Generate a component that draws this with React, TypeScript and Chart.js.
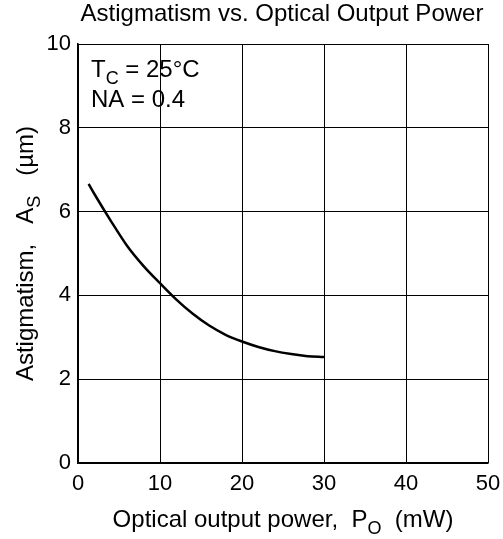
import React, { useEffect, useRef } from "react";
import { Chart, registerables } from "chart.js";

Chart.register(...registerables);

const powerMW = [1.3, 2, 4, 6, 8, 10, 12, 14, 16, 18, 20, 22, 24, 26, 28, 30];
const astigmatismUm = [6.66, 6.42, 5.78, 5.18, 4.7, 4.29, 3.9, 3.56, 3.28, 3.06, 2.9, 2.77, 2.67, 2.6, 2.55, 2.53];
const xTicks = [0, 10, 20, 30, 40, 50];
const yTicks = [0, 2, 4, 6, 8, 10];
const chartTitle = "Astigmatism vs. Optical Output Power";

const FONT = "'Liberation Sans', Arial, Helvetica, sans-serif";

type Seg = { t: string; sub?: boolean };

function segWidth(ctx: CanvasRenderingContext2D, segs: Seg[], size: number) {
  let w = 0;
  for (const s of segs) {
    ctx.font = `${s.sub ? size * 0.75 : size}px ${FONT}`;
    w += ctx.measureText(s.t).width;
  }
  return w;
}

function drawRich(ctx: CanvasRenderingContext2D, segs: Seg[], x: number, y: number, size: number, align: "left" | "center") {
  const total = segWidth(ctx, segs, size);
  let cx = align === "center" ? x - total / 2 : x;
  ctx.textBaseline = "alphabetic";
  ctx.textAlign = "left";
  for (const s of segs) {
    const fs = s.sub ? size * 0.75 : size;
    ctx.font = `${fs}px ${FONT}`;
    ctx.fillText(s.t, cx, s.sub ? y + size * 0.28 : y);
    cx += ctx.measureText(s.t).width;
  }
}

const textPlugin = {
  id: "richText",
  afterDraw(chart: any) {
    const ctx: CanvasRenderingContext2D = chart.ctx;
    const area = chart.chartArea;
    ctx.save();
    ctx.fillStyle = "#000";
    // title
    drawRich(ctx, [{ t: chartTitle }], 282, 21, 24, "center");
    // x title
    drawRich(
      ctx,
      [{ t: "Optical output power,  P" }, { t: "O", sub: true }, { t: "  (mW)" }],
      (area.left + area.right) / 2,
      527,
      24,
      "center"
    );
    // y title
    ctx.save();
    ctx.translate(33, (area.top + area.bottom) / 2);
    ctx.rotate(-Math.PI / 2);
    drawRich(ctx, [{ t: "Astigmatism,   A" }, { t: "S", sub: true }, { t: "   (\u00b5m)" }], 0, 0, 24, "center");
    ctx.restore();
    // annotation
    drawRich(ctx, [{ t: "T" }, { t: "C", sub: true }, { t: " = 25\u00b0C" }], area.left + 13, 77, 24, "left");
    drawRich(ctx, [{ t: "NA = 0.4" }], area.left + 13, 107, 24, "left");
    ctx.restore();
  },
};

export default function App() {
  const ref = useRef<HTMLCanvasElement>(null);
  useEffect(() => {
    if (!ref.current) return;
    const chart = new Chart(ref.current, {
      type: "scatter",
      data: {
        datasets: [
          {
            data: powerMW.map((x, i) => ({ x, y: astigmatismUm[i] })),
            showLine: true,
            borderColor: "#000",
            borderWidth: 2.5,
            pointRadius: 0,
            tension: 0.4,
            cubicInterpolationMode: "monotone",
          },
        ],
      },
      options: {
        animation: false,
        responsive: false,
        maintainAspectRatio: false,
        layout: { padding: { left: 0, right: 15, top: 44, bottom: 0 } },
        plugins: { legend: { display: false }, tooltip: { enabled: false }, title: { display: false } },
        scales: {
          x: {
            type: "linear",
            min: 0,
            max: 50,
            afterBuildTicks: (s: any) => {
              s.ticks = xTicks.map((v) => ({ value: v }));
            },
            afterFit: (s: any) => {
              s.height = 76;
              s.paddingLeft = 0;
              s.paddingRight = 0;
            },
            grid: { color: "#000", lineWidth: 1, drawTicks: false },
            border: { color: "#000", width: 1.5 },
            ticks: { color: "#000", font: { family: FONT, size: 22 }, padding: 8, maxRotation: 0 },
          },
          y: {
            type: "linear",
            min: 0,
            max: 10,
            afterBuildTicks: (s: any) => {
              s.ticks = yTicks.map((v) => ({ value: v }));
            },
            afterFit: (s: any) => {
              s.width = 78;
              s.paddingTop = 0;
              s.paddingBottom = 0;
            },
            grid: { color: "#000", lineWidth: 1, drawTicks: false },
            border: { color: "#000", width: 1.5 },
            ticks: { color: "#000", font: { family: FONT, size: 22 }, padding: 7 },
          },
        },
      },
      plugins: [textPlugin],
    } as any);
    return () => chart.destroy();
  }, []);
  return (
    <div style={{ position: "absolute", left: 0, top: 0, width: 503, height: 539, background: "#fff" }}>
      <canvas ref={ref} width={503} height={539} style={{ width: 503, height: 539, display: "block" }} />
    </div>
  );
}
